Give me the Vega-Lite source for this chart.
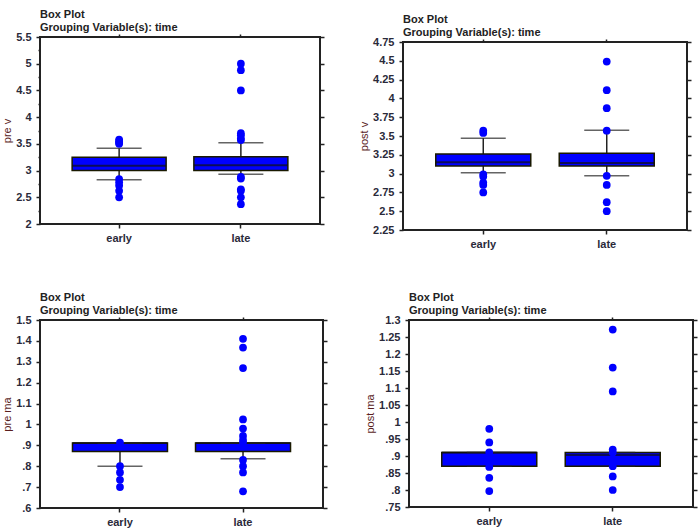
{
  "$schema": "https://vega.github.io/schema/vega-lite/v6.json",
  "background": "white",
  "padding": {"left": 0, "top": 8, "right": 5, "bottom": 2},
  "datasets": {
    "stats": [
      {"var": "pre v", "time": "early", "q1": 3.0, "q3": 3.25, "median": 3.09, "lo": 2.83, "hi": 3.42},
      {"var": "pre v", "time": "late", "q1": 3.0, "q3": 3.26, "median": 3.1, "lo": 2.93, "hi": 3.52},
      {"var": "post v", "time": "early", "q1": 3.1, "q3": 3.26, "median": 3.15, "lo": 3.01, "hi": 3.47},
      {"var": "post v", "time": "late", "q1": 3.1, "q3": 3.27, "median": 3.14, "lo": 2.97, "hi": 3.575},
      {"var": "pre ma", "time": "early", "q1": 0.871, "q3": 0.911, "median": 0.911, "lo": 0.8, "hi": 0.911},
      {"var": "pre ma", "time": "late", "q1": 0.871, "q3": 0.911, "median": 0.911, "lo": 0.836, "hi": 0.911},
      {"var": "post ma", "time": "early", "q1": 0.87, "q3": 0.91, "median": 0.91, "lo": 0.87, "hi": 0.91},
      {"var": "post ma", "time": "late", "q1": 0.87, "q3": 0.91, "median": 0.903, "lo": 0.87, "hi": 0.91}
    ],
    "points": [
      {"var": "pre v", "time": "early", "value": 3.58},
      {"var": "pre v", "time": "early", "value": 3.55},
      {"var": "pre v", "time": "early", "value": 3.52},
      {"var": "pre v", "time": "early", "value": 3.5},
      {"var": "pre v", "time": "early", "value": 2.84},
      {"var": "pre v", "time": "early", "value": 2.78},
      {"var": "pre v", "time": "early", "value": 2.72},
      {"var": "pre v", "time": "early", "value": 2.62},
      {"var": "pre v", "time": "early", "value": 2.5},
      {"var": "pre v", "time": "late", "value": 5.0},
      {"var": "pre v", "time": "late", "value": 4.88},
      {"var": "pre v", "time": "late", "value": 4.5},
      {"var": "pre v", "time": "late", "value": 3.7},
      {"var": "pre v", "time": "late", "value": 3.66},
      {"var": "pre v", "time": "late", "value": 3.6},
      {"var": "pre v", "time": "late", "value": 3.57},
      {"var": "pre v", "time": "late", "value": 2.88},
      {"var": "pre v", "time": "late", "value": 2.85},
      {"var": "pre v", "time": "late", "value": 2.65},
      {"var": "pre v", "time": "late", "value": 2.62},
      {"var": "pre v", "time": "late", "value": 2.5},
      {"var": "pre v", "time": "late", "value": 2.37},
      {"var": "post v", "time": "early", "value": 3.57},
      {"var": "post v", "time": "early", "value": 3.54},
      {"var": "post v", "time": "early", "value": 2.99},
      {"var": "post v", "time": "early", "value": 2.96},
      {"var": "post v", "time": "early", "value": 2.88},
      {"var": "post v", "time": "early", "value": 2.85},
      {"var": "post v", "time": "early", "value": 2.75},
      {"var": "post v", "time": "late", "value": 4.49},
      {"var": "post v", "time": "late", "value": 4.11},
      {"var": "post v", "time": "late", "value": 3.87},
      {"var": "post v", "time": "late", "value": 3.57},
      {"var": "post v", "time": "late", "value": 2.97},
      {"var": "post v", "time": "late", "value": 2.85},
      {"var": "post v", "time": "late", "value": 2.62},
      {"var": "post v", "time": "late", "value": 2.5},
      {"var": "pre ma", "time": "early", "value": 0.913},
      {"var": "pre ma", "time": "early", "value": 0.8},
      {"var": "pre ma", "time": "early", "value": 0.77},
      {"var": "pre ma", "time": "early", "value": 0.735},
      {"var": "pre ma", "time": "early", "value": 0.7},
      {"var": "pre ma", "time": "late", "value": 1.41},
      {"var": "pre ma", "time": "late", "value": 1.368},
      {"var": "pre ma", "time": "late", "value": 1.27},
      {"var": "pre ma", "time": "late", "value": 1.024},
      {"var": "pre ma", "time": "late", "value": 0.98},
      {"var": "pre ma", "time": "late", "value": 0.945},
      {"var": "pre ma", "time": "late", "value": 0.925},
      {"var": "pre ma", "time": "late", "value": 0.913},
      {"var": "pre ma", "time": "late", "value": 0.83},
      {"var": "pre ma", "time": "late", "value": 0.8},
      {"var": "pre ma", "time": "late", "value": 0.77},
      {"var": "pre ma", "time": "late", "value": 0.68},
      {"var": "post ma", "time": "early", "value": 0.98},
      {"var": "post ma", "time": "early", "value": 0.94},
      {"var": "post ma", "time": "early", "value": 0.911},
      {"var": "post ma", "time": "early", "value": 0.9},
      {"var": "post ma", "time": "early", "value": 0.868},
      {"var": "post ma", "time": "early", "value": 0.836},
      {"var": "post ma", "time": "early", "value": 0.797},
      {"var": "post ma", "time": "late", "value": 1.272},
      {"var": "post ma", "time": "late", "value": 1.16},
      {"var": "post ma", "time": "late", "value": 1.09},
      {"var": "post ma", "time": "late", "value": 0.919},
      {"var": "post ma", "time": "late", "value": 0.91},
      {"var": "post ma", "time": "late", "value": 0.87},
      {"var": "post ma", "time": "late", "value": 0.84},
      {"var": "post ma", "time": "late", "value": 0.8}
    ]
  },
  "config": {
    "view": {"stroke": "#222", "strokeWidth": 2},
    "title": {"font": "Liberation Sans", "fontSize": 11, "fontWeight": "bold", "color": "#222", "anchor": "start", "frame": "group", "offset": -2, "lineHeight": 13},
    "axis": {"domain": false, "grid": false, "labelFont": "Liberation Sans", "labelFontSize": 11, "labelFontWeight": "bold", "labelColor": "#2a2a3a", "tickColor": "#222", "tickWidth": 1.5, "titleFont": "Liberation Sans", "titleFontSize": 11, "titleFontWeight": "normal", "titleColor": "#5a1e1e"},
    "tick": {"color": "#222"}
  },
  "vconcat": [
    {
      "hconcat": [
        {
          "width": 280, "height": 187,
          "title": {"text": ["Box Plot", "Grouping Variable(s): time"]},
          "layer": [
            {"data": {"name": "stats"}, "transform": [{"filter": "datum.var === 'pre v'"}],
             "mark": {"type": "rule", "color": "#222", "strokeWidth": 1.5},
             "encoding": {
               "x": {"field": "time", "type": "nominal", "scale": {"type": "band", "domain": ["early", "late"], "paddingInner": 0, "paddingOuter": 0.15}, "axis": {"orient": "bottom", "title": "time", "titleColor": "white", "titlePadding": 0, "labelAngle": 0, "tickSize": 4, "labelPadding": 4}},
               "y": {"field": "lo", "type": "quantitative", "scale": {"domain": [2, 5.5], "nice": false, "zero": false}, "axis": {"orient": "left", "title": "pre v", "values": [2, 2.5, 3, 3.5, 4, 4.5, 5, 5.5], "tickSize": 4, "labelPadding": 5, "titlePadding": 3, "labelExpr": "datum.value < 1 ? substring(format(datum.value, '~g'), 1) : format(datum.value, '~g')"}},
               "y2": {"field": "hi"}}},
            {"data": {"name": "stats"}, "transform": [{"filter": "datum.var === 'pre v'"}],
             "mark": {"type": "bar", "width": 94, "color": "#0000ff", "stroke": "#1a1a00", "strokeWidth": 1.5},
             "encoding": {
               "x": {"field": "time", "type": "nominal", "axis": {"orient": "top", "labels": false, "title": null, "tickSize": 3}},
               "y": {"field": "q1", "type": "quantitative", "axis": {"orient": "right", "labels": false, "title": null, "values": [2, 2.5, 3, 3.5, 4, 4.5, 5, 5.5], "tickSize": 4}},
               "y2": {"field": "q3"}}},
            {"data": {"name": "stats"}, "transform": [{"filter": "datum.var === 'pre v'"}],
             "mark": {"type": "tick", "size": 94, "thickness": 2, "color": "#111"},
             "encoding": {
               "x": {"field": "time", "type": "nominal", "axis": null},
               "y": {"field": "median", "type": "quantitative", "axis": {"orient": "left", "labels": false, "title": null, "values": [2.25, 2.75, 3.25, 3.75, 4.25, 4.75, 5.25], "tickSize": 2}}}},
            {"data": {"name": "stats"}, "transform": [{"filter": "datum.var === 'pre v'"}],
             "mark": {"type": "tick", "size": 45, "thickness": 1.5, "color": "#222"},
             "encoding": {
               "x": {"field": "time", "type": "nominal", "axis": null},
               "y": {"field": "lo", "type": "quantitative", "axis": null}}},
            {"data": {"name": "stats"}, "transform": [{"filter": "datum.var === 'pre v'"}],
             "mark": {"type": "tick", "size": 45, "thickness": 1.5, "color": "#222"},
             "encoding": {
               "x": {"field": "time", "type": "nominal", "axis": null},
               "y": {"field": "hi", "type": "quantitative", "axis": null}}},
            {"data": {"name": "points"}, "transform": [{"filter": "datum.var === 'pre v'"}],
             "mark": {"type": "circle", "size": 60, "color": "#0000ff", "opacity": 1},
             "encoding": {
               "x": {"field": "time", "type": "nominal", "axis": null},
               "y": {"field": "value", "type": "quantitative", "axis": null}}}
          ],
          "resolve": {"axis": {"x": "independent", "y": "independent"}}
        },
        {
          "width": 284, "height": 188,
          "title": {"text": ["Box Plot", "Grouping Variable(s): time"]},
          "layer": [
            {"data": {"name": "stats"}, "transform": [{"filter": "datum.var === 'post v'"}],
             "mark": {"type": "rule", "color": "#222", "strokeWidth": 1.5},
             "encoding": {
               "x": {"field": "time", "type": "nominal", "scale": {"type": "band", "domain": ["early", "late"], "paddingInner": 0, "paddingOuter": 0.15}, "axis": {"orient": "bottom", "title": null, "labelAngle": 0, "tickSize": 4, "labelPadding": 4}},
               "y": {"field": "lo", "type": "quantitative", "scale": {"domain": [2.25, 4.75], "nice": false, "zero": false}, "axis": {"orient": "left", "title": "post v", "values": [2.25, 2.5, 2.75, 3, 3.25, 3.5, 3.75, 4, 4.25, 4.5, 4.75], "tickSize": 4, "labelPadding": 5, "titlePadding": 3, "labelExpr": "datum.value < 1 ? substring(format(datum.value, '~g'), 1) : format(datum.value, '~g')"}},
               "y2": {"field": "hi"}}},
            {"data": {"name": "stats"}, "transform": [{"filter": "datum.var === 'post v'"}],
             "mark": {"type": "bar", "width": 95, "color": "#0000ff", "stroke": "#1a1a00", "strokeWidth": 1.5},
             "encoding": {
               "x": {"field": "time", "type": "nominal", "axis": {"orient": "top", "labels": false, "title": null, "tickSize": 3}},
               "y": {"field": "q1", "type": "quantitative", "axis": {"orient": "right", "labels": false, "title": null, "values": [2.25, 2.5, 2.75, 3, 3.25, 3.5, 3.75, 4, 4.25, 4.5, 4.75], "tickSize": 4}},
               "y2": {"field": "q3"}}},
            {"data": {"name": "stats"}, "transform": [{"filter": "datum.var === 'post v'"}],
             "mark": {"type": "tick", "size": 95, "thickness": 2, "color": "#111"},
             "encoding": {
               "x": {"field": "time", "type": "nominal", "axis": null},
               "y": {"field": "median", "type": "quantitative", "axis": null}}},
            {"data": {"name": "stats"}, "transform": [{"filter": "datum.var === 'post v'"}],
             "mark": {"type": "tick", "size": 45, "thickness": 1.5, "color": "#222"},
             "encoding": {
               "x": {"field": "time", "type": "nominal", "axis": null},
               "y": {"field": "lo", "type": "quantitative", "axis": null}}},
            {"data": {"name": "stats"}, "transform": [{"filter": "datum.var === 'post v'"}],
             "mark": {"type": "tick", "size": 45, "thickness": 1.5, "color": "#222"},
             "encoding": {
               "x": {"field": "time", "type": "nominal", "axis": null},
               "y": {"field": "hi", "type": "quantitative", "axis": null}}},
            {"data": {"name": "points"}, "transform": [{"filter": "datum.var === 'post v'"}],
             "mark": {"type": "circle", "size": 60, "color": "#0000ff", "opacity": 1},
             "encoding": {
               "x": {"field": "time", "type": "nominal", "axis": null},
               "y": {"field": "value", "type": "quantitative", "axis": null}}}
          ],
          "resolve": {"axis": {"x": "independent", "y": "independent"}}
        }
      ],
      "spacing": 31,
      "center": true
    },
    {
      "hconcat": [
        {
          "width": 283, "height": 188,
          "title": {"text": ["Box Plot", "Grouping Variable(s): time"]},
          "layer": [
            {"data": {"name": "stats"}, "transform": [{"filter": "datum.var === 'pre ma'"}],
             "mark": {"type": "rule", "color": "#222", "strokeWidth": 1.5},
             "encoding": {
               "x": {"field": "time", "type": "nominal", "scale": {"type": "band", "domain": ["early", "late"], "paddingInner": 0, "paddingOuter": 0.15}, "axis": {"orient": "bottom", "title": null, "labelAngle": 0, "tickSize": 4, "labelPadding": 4}},
               "y": {"field": "lo", "type": "quantitative", "scale": {"domain": [0.6, 1.5], "nice": false, "zero": false}, "axis": {"orient": "left", "title": "pre ma", "values": [0.6, 0.7, 0.8, 0.9, 1, 1.1, 1.2, 1.3, 1.4, 1.5], "tickSize": 4, "labelPadding": 5, "titlePadding": 3, "labelExpr": "datum.value < 1 ? substring(format(datum.value, '~g'), 1) : format(datum.value, '~g')"}},
               "y2": {"field": "hi"}}},
            {"data": {"name": "stats"}, "transform": [{"filter": "datum.var === 'pre ma'"}],
             "mark": {"type": "bar", "width": 95, "color": "#0000ff", "stroke": "#1a1a00", "strokeWidth": 1.5},
             "encoding": {
               "x": {"field": "time", "type": "nominal", "axis": {"orient": "top", "labels": false, "title": null, "tickSize": 3}},
               "y": {"field": "q1", "type": "quantitative", "axis": {"orient": "right", "labels": false, "title": null, "values": [0.6, 0.7, 0.8, 0.9, 1, 1.1, 1.2, 1.3, 1.4, 1.5], "tickSize": 4}},
               "y2": {"field": "q3"}}},
            {"data": {"name": "stats"}, "transform": [{"filter": "datum.var === 'pre ma'"}],
             "mark": {"type": "tick", "size": 95, "thickness": 2, "color": "#111"},
             "encoding": {
               "x": {"field": "time", "type": "nominal", "axis": null},
               "y": {"field": "median", "type": "quantitative", "axis": null}}},
            {"data": {"name": "stats"}, "transform": [{"filter": "datum.var === 'pre ma'"}],
             "mark": {"type": "tick", "size": 45, "thickness": 1.5, "color": "#222"},
             "encoding": {
               "x": {"field": "time", "type": "nominal", "axis": null},
               "y": {"field": "lo", "type": "quantitative", "axis": null}}},
            {"data": {"name": "stats"}, "transform": [{"filter": "datum.var === 'pre ma'"}],
             "mark": {"type": "tick", "size": 45, "thickness": 1.5, "color": "#222"},
             "encoding": {
               "x": {"field": "time", "type": "nominal", "axis": null},
               "y": {"field": "hi", "type": "quantitative", "axis": null}}},
            {"data": {"name": "points"}, "transform": [{"filter": "datum.var === 'pre ma'"}],
             "mark": {"type": "circle", "size": 60, "color": "#0000ff", "opacity": 1},
             "encoding": {
               "x": {"field": "time", "type": "nominal", "axis": null},
               "y": {"field": "value", "type": "quantitative", "axis": null}}}
          ],
          "resolve": {"axis": {"x": "independent", "y": "independent"}}
        },
        {
          "width": 284, "height": 187,
          "title": {"text": ["Box Plot", "Grouping Variable(s): time"]},
          "layer": [
            {"data": {"name": "stats"}, "transform": [{"filter": "datum.var === 'post ma'"}],
             "mark": {"type": "rule", "color": "#222", "strokeWidth": 1.5},
             "encoding": {
               "x": {"field": "time", "type": "nominal", "scale": {"type": "band", "domain": ["early", "late"], "paddingInner": 0, "paddingOuter": 0.15}, "axis": {"orient": "bottom", "title": null, "labelAngle": 0, "tickSize": 4, "labelPadding": 4}},
               "y": {"field": "lo", "type": "quantitative", "scale": {"domain": [0.75, 1.3], "nice": false, "zero": false}, "axis": {"orient": "left", "title": "post ma", "values": [0.75, 0.8, 0.85, 0.9, 0.95, 1, 1.05, 1.1, 1.15, 1.2, 1.25, 1.3], "tickSize": 4, "labelPadding": 5, "titlePadding": 3, "labelExpr": "datum.value < 1 ? substring(format(datum.value, '~g'), 1) : format(datum.value, '~g')"}},
               "y2": {"field": "hi"}}},
            {"data": {"name": "stats"}, "transform": [{"filter": "datum.var === 'post ma'"}],
             "mark": {"type": "bar", "width": 95, "color": "#0000ff", "stroke": "#1a1a00", "strokeWidth": 1.5},
             "encoding": {
               "x": {"field": "time", "type": "nominal", "axis": {"orient": "top", "labels": false, "title": null, "tickSize": 3}},
               "y": {"field": "q1", "type": "quantitative", "axis": {"orient": "right", "labels": false, "title": null, "values": [0.75, 0.8, 0.85, 0.9, 0.95, 1, 1.05, 1.1, 1.15, 1.2, 1.25, 1.3], "tickSize": 4}},
               "y2": {"field": "q3"}}},
            {"data": {"name": "stats"}, "transform": [{"filter": "datum.var === 'post ma'"}],
             "mark": {"type": "tick", "size": 95, "thickness": 2, "color": "#111"},
             "encoding": {
               "x": {"field": "time", "type": "nominal", "axis": null},
               "y": {"field": "median", "type": "quantitative", "axis": null}}},
            {"data": {"name": "stats"}, "transform": [{"filter": "datum.var === 'post ma'"}],
             "mark": {"type": "tick", "size": 45, "thickness": 1.5, "color": "#222"},
             "encoding": {
               "x": {"field": "time", "type": "nominal", "axis": null},
               "y": {"field": "lo", "type": "quantitative", "axis": null}}},
            {"data": {"name": "stats"}, "transform": [{"filter": "datum.var === 'post ma'"}],
             "mark": {"type": "tick", "size": 45, "thickness": 1.5, "color": "#222"},
             "encoding": {
               "x": {"field": "time", "type": "nominal", "axis": null},
               "y": {"field": "hi", "type": "quantitative", "axis": null}}},
            {"data": {"name": "points"}, "transform": [{"filter": "datum.var === 'post ma'"}],
             "mark": {"type": "circle", "size": 60, "color": "#0000ff", "opacity": 1},
             "encoding": {
               "x": {"field": "time", "type": "nominal", "axis": null},
               "y": {"field": "value", "type": "quantitative", "axis": null}}}
          ],
          "resolve": {"axis": {"x": "independent", "y": "independent"}}
        }
      ],
      "spacing": 34
    }
  ],
  "spacing": 36
}
